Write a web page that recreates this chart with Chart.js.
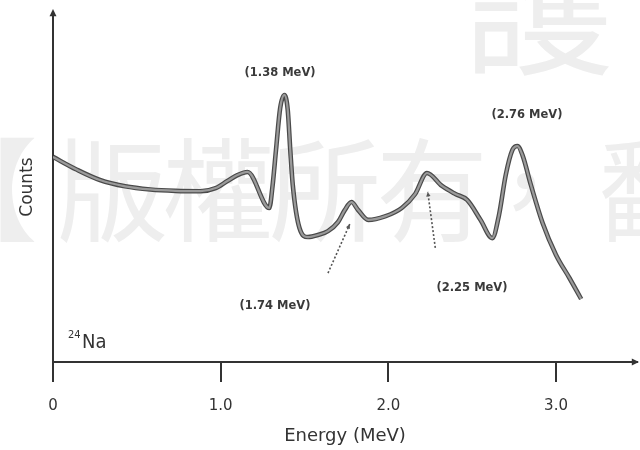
<!DOCTYPE html>
<html lang="en">
  <head>
    <meta charset="UTF-8" />
    <title>24Na gamma spectrum</title>
    <style>
      html,
      body {
        margin: 0;
        padding: 0;
        background: #fff;
      }

      .container {
        position: relative;
        width: 640px;
        height: 450px;
      }
    </style>
  </head>
  <body>
    <div class="container"><canvas id="chart" width="640" height="450"></canvas></div>

    <script src="https://cdn.jsdelivr.net/npm/chart.js@4.4.0/dist/chart.umd.min.js"></script>
    <script>
      // values (energy in MeV, counts in arbitrary units 0..100)
      const ENERGY = [
        0, 0.14, 0.28, 0.43, 0.58, 0.73, 0.88, 0.97, 1.04, 1.1, 1.16, 1.29, 1.31, 1.33, 1.355, 1.38,
        1.4, 1.415, 1.43, 1.47, 1.52, 1.58, 1.64, 1.7, 1.74, 1.78, 1.82, 1.88, 1.98, 2.08, 2.16,
        2.23, 2.32, 2.4, 2.47, 2.55, 2.62, 2.66, 2.7, 2.74, 2.77, 2.8, 2.85, 2.92, 3.0, 3.08, 3.15,
      ];
      const COUNTS = [
        58.6, 55.0, 52.0, 50.2, 49.3, 48.9, 48.8, 49.7, 51.7, 53.4, 54.3, 44.0, 50.6, 60.6, 72.6,
        76.3, 72.0, 60.6, 50.6, 38.3, 35.7, 36.3, 37.4, 40.0, 43.4, 45.7, 43.4, 40.6, 41.6, 44.0,
        48.0, 54.0, 50.3, 48.0, 46.3, 40.6, 35.4, 42.0, 53.4, 60.6, 61.7, 59.1, 50.6, 39.7, 30.6,
        24.0, 18.0,
      ];
      const TICK_VALUES = [0, 1, 2, 3];
      const TICK_LABELS = ["0", "1.0", "2.0", "3.0"];
      const PEAK_LABELS = ["(1.38 MeV)", "(1.74 MeV)", "(2.25 MeV)", "(2.76 MeV)"];
      const WATERMARK = ["【", "版", "權", "所", "有", "，", "翻"];

      const INK = "#333";

      // where the peak labels sit, in data units [energy, counts]
      const labelAt = [
        [1.354, 82.6],
        [1.324, 16.0],
        [2.499, 21.1],
        [2.827, 70.6],
      ];
      // dotted arrows [from, to] in data units
      const arrows = [
        [[1.64, 25.4], [1.77, 39.4]],
        [[2.28, 32.6], [2.235, 48.6]],
      ];

      const points = ENERGY.map((e, i) => ({ x: e, y: COUNTS[i] }));

      const watermark = {
        id: "watermark",
        beforeDraw(chart) {
          const ctx = chart.ctx;
          ctx.save();
          ctx.fillStyle = "#eeeeee";
          ctx.textAlign = "center";
          ctx.textBaseline = "middle";
          ctx.font = "400 112px 'Noto Sans CJK TC'";
          const xs = [-18, 112, 218, 325, 432, 525, 655];
          WATERMARK.forEach((ch, i) => ctx.fillText(ch, xs[i], 190));
          ctx.font = "400 150px 'Noto Sans CJK TC'";
          ctx.fillText("護", 538, 6);
          ctx.restore();
        },
      };

      function arrowHead(ctx, x0, y0, x1, y1, size) {
        const a = Math.atan2(y1 - y0, x1 - x0);
        ctx.beginPath();
        ctx.moveTo(x1, y1);
        ctx.lineTo(x1 - size * Math.cos(a - 0.45), y1 - size * Math.sin(a - 0.45));
        ctx.lineTo(x1 - size * Math.cos(a + 0.45), y1 - size * Math.sin(a + 0.45));
        ctx.closePath();
        ctx.fill();
      }

      const notes = {
        id: "notes",
        afterDraw(chart) {
          const { ctx, chartArea } = chart;
          const sx = chart.scales.x;
          const sy = chart.scales.y;
          ctx.save();
          ctx.fillStyle = INK;
          ctx.strokeStyle = INK;

          // axis arrow heads
          arrowHead(ctx, chartArea.left, chartArea.bottom, chartArea.left, chartArea.top - 3, 8);
          arrowHead(ctx, chartArea.left, chartArea.bottom, chartArea.right + 2, chartArea.bottom, 8);

          // peak labels
          ctx.fillStyle = "#3a3a3a";
          ctx.font = "bold 11.5px 'DejaVu Sans'";
          ctx.textAlign = "center";
          ctx.textBaseline = "middle";
          PEAK_LABELS.forEach((t, i) => {
            ctx.fillText(t, sx.getPixelForValue(labelAt[i][0]), sy.getPixelForValue(labelAt[i][1]));
          });

          // dotted arrows
          ctx.strokeStyle = "#555";
          ctx.fillStyle = "#555";
          ctx.lineWidth = 1.6;
          arrows.forEach(([a, b]) => {
            const x0 = sx.getPixelForValue(a[0]);
            const y0 = sy.getPixelForValue(a[1]);
            const x1 = sx.getPixelForValue(b[0]);
            const y1 = sy.getPixelForValue(b[1]);
            ctx.setLineDash([2, 2]);
            ctx.beginPath();
            ctx.moveTo(x0, y0);
            ctx.lineTo(x1, y1);
            ctx.stroke();
            ctx.setLineDash([]);
            arrowHead(ctx, x0, y0, x1, y1, 5);
          });

          // isotope tag
          ctx.fillStyle = INK;
          ctx.textAlign = "left";
          ctx.textBaseline = "alphabetic";
          ctx.font = "11px 'DejaVu Sans Condensed', 'DejaVu Sans'";
          ctx.fillText("24", chartArea.left + 15, chartArea.bottom - 24);
          ctx.font = "20px 'DejaVu Sans Condensed', 'DejaVu Sans'";
          ctx.fillText("Na", chartArea.left + 29, chartArea.bottom - 14);
          ctx.restore();
        },
      };

      new Chart(document.getElementById("chart"), {
        type: "line",
        data: {
          datasets: [
            {
              data: points,
              borderColor: "#9a9a9a",
              borderWidth: 2.2,
              pointRadius: 0,
              cubicInterpolationMode: "monotone",
              order: 0,
            },
            {
              data: points,
              borderColor: "#4a4a4a",
              borderWidth: 4.6,
              pointRadius: 0,
              cubicInterpolationMode: "monotone",
              order: 1,
            },
          ],
        },
        options: {
          responsive: false,
          animation: false,
          layout: { padding: { top: 12, right: 3, left: 0, bottom: 0 } },
          plugins: { legend: { display: false }, tooltip: { enabled: false } },
          scales: {
            x: {
              type: "linear",
              min: 0,
              max: 3.483,
              afterBuildTicks: (s) => {
                s.ticks = TICK_VALUES.map((v) => ({ value: v }));
              },
              afterFit: (s) => {
                s.height = 88;
              },
              ticks: {
                callback: (v, i) => TICK_LABELS[i],
                color: INK,
                font: { family: "'DejaVu Sans'", size: 15 },
                padding: 15,
                maxRotation: 0,
                autoSkip: false,
              },
              grid: {
                drawOnChartArea: false,
                drawTicks: true,
                tickLength: 20,
                color: INK,
                lineWidth: 2,
              },
              border: { display: true, color: INK, width: 2 },
              title: {
                display: true,
                text: "Energy (MeV)",
                color: INK,
                font: { family: "'DejaVu Sans'", size: 18 },
                padding: { top: 0, bottom: 3 },
              },
            },
            y: {
              min: 0,
              max: 100,
              afterFit: (s) => {
                s.width = 53;
              },
              ticks: { display: false },
              grid: { display: false },
              border: { display: true, color: INK, width: 2 },
              title: {
                display: true,
                text: "Counts",
                color: INK,
                font: { family: "'DejaVu Sans'", size: 17 },
                padding: { top: 17, bottom: 0 },
              },
            },
          },
        },
        plugins: [watermark, notes],
      });
    </script>
  </body>
</html>
